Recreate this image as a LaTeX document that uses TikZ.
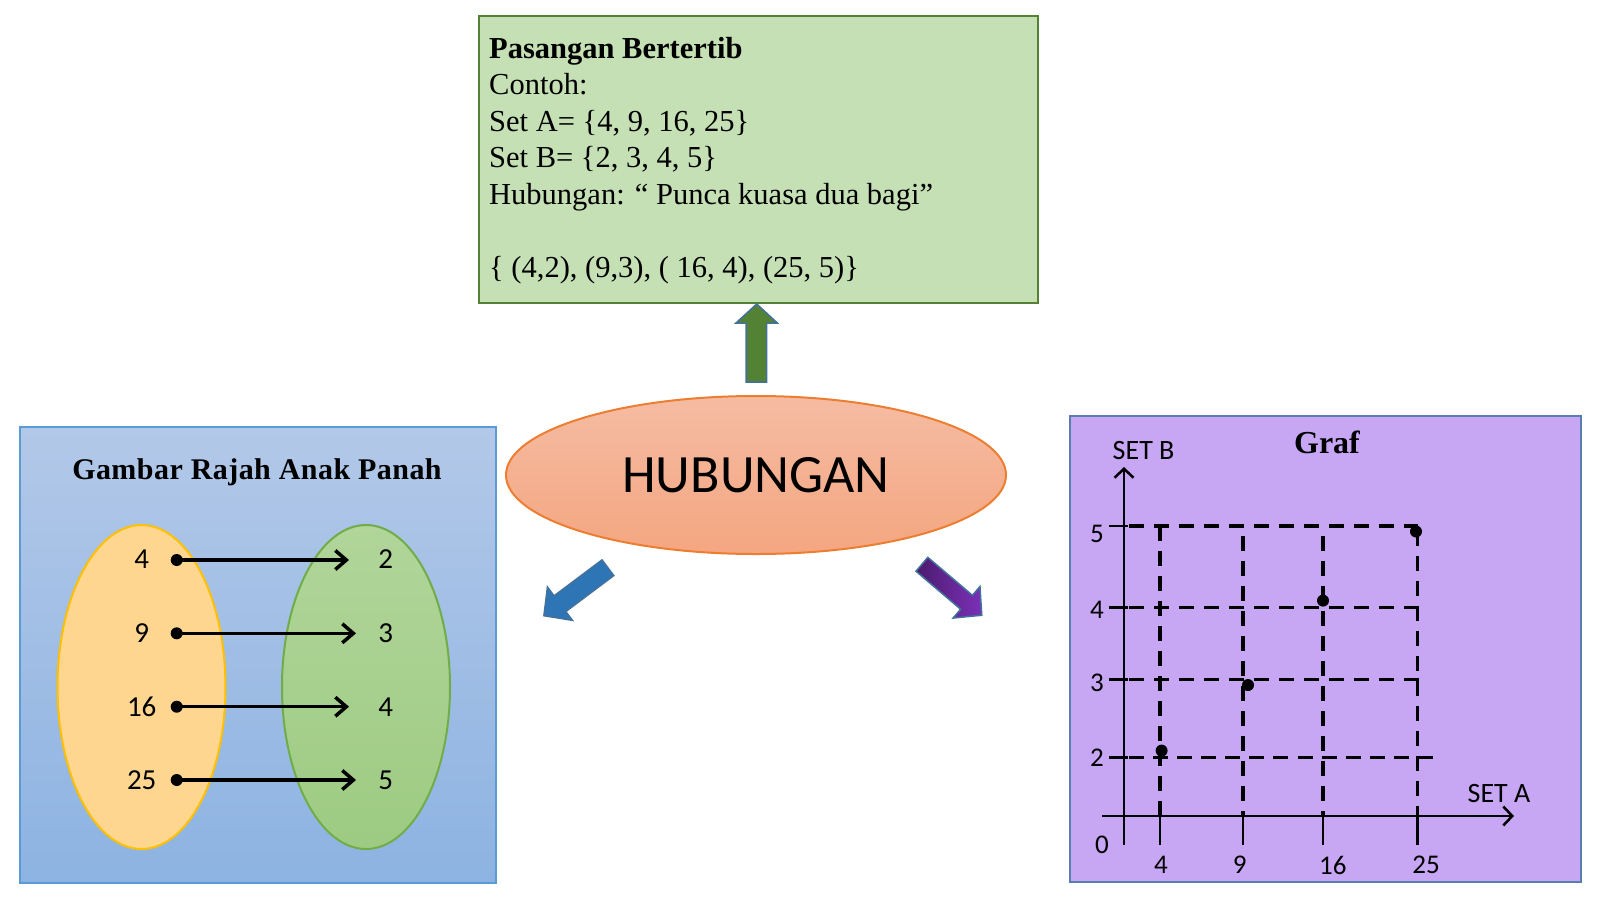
\documentclass[tikz,border=0pt]{standalone}
\usepackage{fontspec}
\setmainfont{Liberation Serif}
\newfontfamily\calib{Carlito}
\usetikzlibrary{shapes.geometric,arrows.meta}
\definecolor{gboxf}{HTML}{C5E0B4}
\definecolor{gboxb}{HTML}{548235}
\definecolor{upf}{HTML}{548235}
\definecolor{arrb}{HTML}{41719C}
\definecolor{hubt}{HTML}{F5BCA3}
\definecolor{hubbot}{HTML}{F4A680}
\definecolor{hubb}{HTML}{ED7D31}
\definecolor{bboxt}{HTML}{B2C8E8}
\definecolor{bboxb}{HTML}{8DB3E2}
\definecolor{bboxd}{HTML}{5B9BD5}
\definecolor{yfill}{HTML}{FED690}
\definecolor{ybord}{HTML}{FFC000}
\definecolor{gfillt}{HTML}{B1D59A}
\definecolor{gfillb}{HTML}{9DCB82}
\definecolor{gbord}{HTML}{70AD47}
\definecolor{pfill}{HTML}{C7A6F4}
\definecolor{pbord}{HTML}{5A7DB0}
\definecolor{barr}{HTML}{2E75B6}
\definecolor{pdark}{HTML}{4B1B6E}
\definecolor{plight}{HTML}{7B30B8}
\tikzset{
  panel/.style={rectangle, line width=2pt, inner sep=0pt, anchor=north west},
  boxline/.style={anchor=base west, inner sep=0pt, font=\fontsize{30.5}{36.6}\selectfont},
  numA/.style={font=\calib\fontsize{29}{30}\selectfont, inner sep=0pt},
  mapsto/.style={line width=3.5pt, -{Straight Barb[length=11pt,width=19pt]}},
  dotmark/.style={circle, fill=black, inner sep=0pt, minimum size=12pt},
  gridline/.style={line width=3.5pt, dash pattern=on 15pt off 10pt},
  axisline/.style={line width=2.5pt, -{Straight Barb[length=9pt,width=19pt]}},
  tickline/.style={line width=2.5pt},
  lab/.style={font=\calib\fontsize{27}{28}\selectfont, inner sep=0pt},
  blockarrow/.style={line width=1.5pt, draw=arrb, line join=miter}
}
\begin{document}
\begin{tikzpicture}[x=1pt,y=1pt]
\useasboundingbox (0,0) rectangle (1600,-903);

% ---------- top box: ordered pairs ----------
\node[panel, draw=gboxb, fill=gboxf, minimum width=559, minimum height=287] (pairs) at (477.6,-15.3) {};
\node[boxline] (l1) at (489,-58.3) {\textbf{Pasangan Bertertib}};
\node[boxline] (l2) at (489,-94.5) {Contoh:};
\node[boxline] (l3) at (489,-131) {Set A= \{4, 9, 16, 25\}};
\node[boxline] (l4) at (489,-167.5) {Set B= \{2, 3, 4, 5\}};
\node[boxline] (l5) at (489,-204) {Hubungan: “ Punca kuasa dua bagi”};
\node[boxline] (l6) at (489,-277) {\{ (4,2), (9,3), ( 16, 4), (25, 5)\}};

% ---------- centre ellipse ----------
\node[ellipse, draw=hubb, line width=2pt, top color=hubt, bottom color=hubbot,
      minimum width=500, minimum height=158, inner sep=0pt,
      font=\calib\fontsize{54}{60}\selectfont] (hub) at (756,-475) {HUBUNGAN};

% ---------- block arrows ----------
\filldraw[blockarrow, fill=upf] (746,-382) -- (746,-323) -- (736,-323) -- (756.7,-304)
   -- (777.3,-323) -- (766.7,-323) -- (766.7,-382) -- cycle;
\begin{scope}[shift={(607.9,-567.7)}, rotate=216.87]
  \filldraw[blockarrow, fill=barr] (0,-9.8) -- (60,-9.8) -- (60,-20.8) -- (80,0)
     -- (60,20.8) -- (60,9.8) -- (0,9.8) -- cycle;
\end{scope}
\begin{scope}[shift={(921.9,-564.3)}, rotate=-40.4]
  \shadedraw[blockarrow, left color=pdark, right color=plight] (0,-9.1) -- (58.6,-9.1)
     -- (58.6,-20.7) -- (78.6,0) -- (58.6,20.7) -- (58.6,9.1) -- (0,9.1) -- cycle;
\end{scope}

% ---------- left panel: arrow diagram ----------
\node[panel, draw=bboxd, top color=bboxt, bottom color=bboxb, minimum width=476, minimum height=456] (arrowpanel) at (19,-426) {};
\node[anchor=base, inner sep=0pt, font=\bfseries\fontsize{30}{32}\selectfont] (t1) at (257,-479) {\addfontfeature{LetterSpace=1.5}Gambar Rajah Anak Panah};
\node[ellipse, draw=ybord, fill=yfill, line width=2pt, minimum width=168, minimum height=324, inner sep=0pt] (setA) at (141.5,-687) {};
\node[ellipse, draw=gbord, top color=gfillt, bottom color=gfillb, line width=2pt, minimum width=168, minimum height=324, inner sep=0pt] (setB) at (366,-687) {};

\node[numA] (a4)  at (141.7,-559.3) {4};
\node[numA] (a9)  at (141.7,-633.3) {9};
\node[numA] (a16) at (141.7,-706.7) {16};
\node[numA] (a25) at (141.7,-780)   {25};
\node[numA] (b2)  at (385.7,-559.3) {2};
\node[numA] (b3)  at (385.7,-633.3) {3};
\node[numA] (b4)  at (385.7,-706.7) {4};
\node[numA] (b5)  at (385.7,-780)   {5};

\node[dotmark] (d4)  at (176.7,-560) {};
\node[dotmark] (d9)  at (176.7,-633.3) {};
\node[dotmark] (d16) at (176.7,-706.7) {};
\node[dotmark] (d25) at (176.7,-780)   {};
\coordinate (e2) at (349,-560);
\coordinate (e3) at (356,-633.3);
\coordinate (e4) at (349,-706.7);
\coordinate (e5) at (356,-780);
\draw[mapsto] (d4.center)  -- (e2);
\draw[mapsto] (d9.center)  -- (e3);
\draw[mapsto] (d16.center) -- (e4);
\draw[mapsto] (d25.center) -- (e5);

% ---------- right panel: graph ----------
\node[panel, draw=pbord, fill=pfill, minimum width=511, minimum height=466] (grafpanel) at (1069,-415) {};
\node[anchor=base, inner sep=0pt, font=\bfseries\fontsize{32}{34}\selectfont] (gt) at (1327,-453.6) {Graf};

% grid lines
\draw[gridline] (1129,-526)   -- (1417.5,-526);
\draw[gridline] (1129,-607.3) -- (1424,-607.3);
\draw[gridline] (1129,-679.5) -- (1424,-679.5);
\draw[gridline, dash pattern=on 15pt off 9.08pt] (1129,-757.3) -- (1433,-757.3);
\draw[gridline] (1160,-526)   -- (1160,-816);
\draw[gridline] (1243,-536)   -- (1243,-816);
\draw[gridline] (1323,-536)   -- (1323,-816);
\draw[gridline] (1417.5,-531) -- (1417.5,-816);

% axes
\coordinate (ybot) at (1124,-845);
\coordinate (ytop) at (1124,-467);
\coordinate (xlft) at (1102,-816);
\coordinate (xrgt) at (1514,-816);
\draw[axisline] (ybot) -- (ytop);
\draw[axisline] (xlft) -- (xrgt);

% ticks
\foreach \yy in {-526,-607.3,-679.5,-757.3} \draw[tickline] (1109,\yy) -- (1128,\yy);
\foreach \xx in {1160,1243,1323,1417.5} \draw[tickline] (\xx,-812) -- (\xx,-845);

% labels
\node[lab] (y5) at (1097,-533.5) {5};
\node[lab] (y4) at (1097,-610)   {4};
\node[lab] (y3) at (1097,-682.5) {3};
\node[lab] (y2) at (1097,-758)   {2};
\node[lab] (x4)  at (1161,-865)   {4};
\node[lab] (x9)  at (1239.6,-865) {9};
\node[lab] (x16) at (1332.8,-865) {16};
\node[lab] (x25) at (1426,-865)   {25};
\node[lab] (zero) at (1102,-844.6) {0};
\node[lab, font=\calib\fontsize{28}{30}\selectfont] (setb) at (1143.6,-450.8) {SET B};
\node[lab, font=\calib\fontsize{28}{30}\selectfont] (seta) at (1499,-793) {SET A};

% points
\node[dotmark] (p1) at (1161.6,-750.6) {};
\node[dotmark] (p2) at (1248,-685)     {};
\node[dotmark] (p3) at (1323,-600.6)   {};
\node[dotmark] (p4) at (1416,-531.5)   {};
\end{tikzpicture}
\end{document}
